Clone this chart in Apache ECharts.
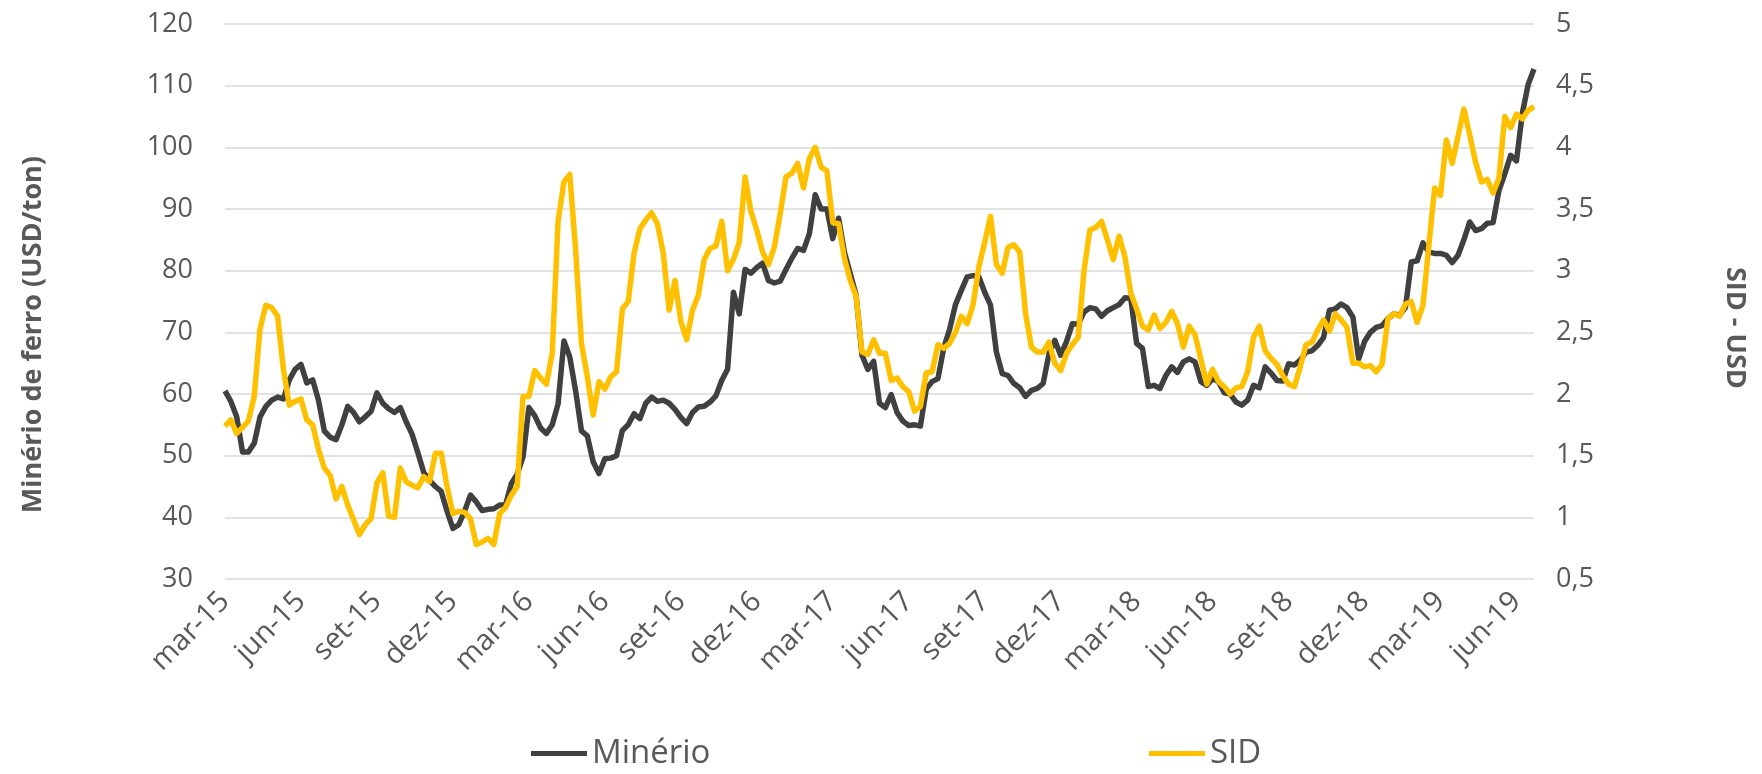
<!DOCTYPE html>
<html>
<head>
<meta charset="utf-8">
<script src="https://cdn.jsdelivr.net/npm/echarts@6/dist/echarts.min.js"></script>
<style>
  html, body { margin: 0; padding: 0; background: #fff; }
  #chart { width: 1762px; height: 774px; }
</style>
</head>
<body>
<div id="chart"></div>
<script>
// weekly series, mar-15 .. jun-19
var minerio = [
  60.5, 58.8, 56.3, 50.6, 50.6, 52, 56.3, 58, 59, 59.5,
  59.2, 62.3, 64, 64.8, 61.8, 62.3, 59, 54, 53, 52.6,
  55, 58, 57, 55.5, 56.3, 57.2, 60.2, 58.5, 57.6, 57,
  57.8, 55.5, 53.5, 50.5, 47.3, 46, 45, 44.2, 41, 38.2,
  38.8, 41, 43.6, 42.5, 41.1, 41.3, 41.4, 42, 42, 45.5,
  47, 49.8, 57.8, 56.5, 54.5, 53.6, 55, 58.4, 68.6, 66,
  60.5, 54, 53.2, 49, 47.1, 49.5, 49.6, 50, 54.1, 55,
  56.8, 56, 58.5, 59.5, 58.8, 59, 58.5, 57.5, 56.2, 55.2,
  57, 57.9, 58, 58.7, 59.7, 62.2, 64, 76.5, 73, 80.2,
  79.6, 80.5, 81.2, 78.4, 78, 78.3, 80.2, 82, 83.6, 83.3,
  86, 92.3, 90, 90, 85.2, 88.5, 83, 79.5, 76, 66.3,
  64, 65.3, 58.5, 57.8, 59.9, 57, 55.6, 54.9, 55, 54.8,
  60.8, 62, 62.5, 67.5, 70.5, 74.5, 76.8, 79, 79.2, 79,
  76.5, 74.4, 66.8, 63.3, 63, 61.7, 61, 59.6, 60.6, 60.9,
  61.7, 66.5, 68.7, 66.3, 68.5, 71.4, 71.3, 73.3, 74, 73.8,
  72.6, 73.5, 74, 74.5, 75.6, 75.5, 68.2, 67.4, 61.2, 61.4,
  60.9, 63, 64.4, 63.5, 65.2, 65.7, 65.2, 62, 61.4, 62.5,
  62, 60.2, 60, 58.7, 58.2, 59, 61.4, 61, 64.4, 63.4,
  62.2, 62.1, 64.9, 64.7, 65.5, 66.8, 67, 67.9, 69.2, 73.6,
  73.8, 74.6, 74, 72.5, 65.7, 68.5, 70, 70.8, 71.1, 72.2,
  73, 72.8, 74, 81.4, 81.6, 84.5, 83, 82.8, 82.8, 82.5,
  81.3, 82.5, 85, 87.9, 86.5, 86.8, 87.7, 87.8, 93, 95.7,
  98.7, 97.8, 105.5, 110.2, 112.7
];

var sid = [
  1.74, 1.79, 1.68, 1.73, 1.78, 1.98, 2.53, 2.72, 2.70, 2.63,
  2.20, 1.91, 1.94, 1.96, 1.79, 1.75, 1.55, 1.40, 1.34, 1.15,
  1.25, 1.10, 0.98, 0.86, 0.94, 0.99, 1.28, 1.36, 1.01, 1.00,
  1.40, 1.29, 1.26, 1.24, 1.33, 1.29, 1.52, 1.52, 1.25, 1.03,
  1.05, 1.04, 0.99, 0.78, 0.80, 0.83, 0.78, 1.03, 1.08, 1.18,
  1.25, 1.98, 1.98, 2.19, 2.13, 2.08, 2.33, 3.40, 3.72, 3.78,
  3.17, 2.41, 2.14, 1.83, 2.10, 2.04, 2.14, 2.18, 2.69, 2.75,
  3.14, 3.34, 3.41, 3.47, 3.38, 3.14, 2.68, 2.92, 2.59, 2.44,
  2.68, 2.80, 3.09, 3.18, 3.20, 3.40, 3.00, 3.09, 3.23, 3.76,
  3.48, 3.33, 3.15, 3.05, 3.19, 3.46, 3.76, 3.79, 3.87, 3.67,
  3.91, 4.00, 3.84, 3.81, 3.39, 3.38, 3.10, 2.92, 2.79, 2.34,
  2.32, 2.44, 2.33, 2.33, 2.11, 2.13, 2.06, 2.02, 1.86, 1.90,
  2.17, 2.18, 2.40, 2.37, 2.41, 2.50, 2.63, 2.57, 2.72, 3.03,
  3.23, 3.44, 3.05, 2.98, 3.19, 3.21, 3.15, 2.65, 2.38, 2.34,
  2.34, 2.42, 2.25, 2.19, 2.33, 2.40, 2.46, 3.00, 3.33, 3.35,
  3.40, 3.25, 3.09, 3.28, 3.11, 2.82, 2.69, 2.55, 2.52, 2.64,
  2.53, 2.58, 2.67, 2.57, 2.38, 2.55, 2.48, 2.28, 2.08, 2.20,
  2.10, 2.06, 2.00, 2.05, 2.06, 2.18, 2.46, 2.55, 2.35, 2.29,
  2.24, 2.15, 2.08, 2.06, 2.22, 2.40, 2.42, 2.52, 2.60, 2.51,
  2.65, 2.60, 2.54, 2.25, 2.25, 2.22, 2.23, 2.18, 2.24, 2.61,
  2.65, 2.63, 2.73, 2.75, 2.58, 2.72, 3.20, 3.67, 3.61, 4.06,
  3.87, 4.09, 4.31, 4.10, 3.88, 3.72, 3.74, 3.63, 3.75, 4.25,
  4.16, 4.27, 4.23, 4.30, 4.33
];

// one label every 13 weeks
var tickLabels = ['mar-15', 'jun-15', 'set-15', 'dez-15', 'mar-16', 'jun-16',
  'set-16', 'dez-16', 'mar-17', 'jun-17', 'set-17', 'dez-17', 'mar-18',
  'jun-18', 'set-18', 'dez-18', 'mar-19', 'jun-19'];
var labelStep = 13;

var weeks = minerio.map(function (v, i) { return 'w' + i; });

var gray = '#595959';
var font = '"Open Sans", sans-serif';

var chart = echarts.init(document.getElementById('chart'));
var option = {
  animation: false,
  backgroundColor: '#ffffff',
  textStyle: { fontFamily: font },
  grid: { left: 225, right: 228, top: 24, bottom: 195, containLabel: false },
  // axis titles sit a bit below the plot middle, as in the original
  graphic: [{
    type: 'text',
    left: 20, top: 156,
    rotation: Math.PI / 2,
    style: {
      text: 'Minério de ferro (USD/ton)',
      fill: gray, fontSize: 27, fontWeight: 'bold', fontFamily: font
    }
  }, {
    type: 'text',
    right: 14, top: 267,
    rotation: -Math.PI / 2,
    style: {
      text: 'SID - USD',
      fill: gray, fontSize: 27, fontWeight: 'bold', fontFamily: font
    }
  }],
  legend: [{
    data: ['Minério'],
    left: 526, top: 732,
    icon: 'rect', itemWidth: 56, itemHeight: 5, itemGap: 0,
    textStyle: { color: gray, fontSize: 33, fontFamily: font }
  }, {
    data: ['SID'],
    left: 1144, top: 732,
    icon: 'rect', itemWidth: 56, itemHeight: 5, itemGap: 0,
    textStyle: { color: gray, fontSize: 33, fontFamily: font }
  }],
  xAxis: {
    type: 'category',
    data: weeks,
    boundaryGap: false,
    axisLine: { show: false },
    axisTick: { show: false },
    axisLabel: {
      rotate: 45,
      margin: 18,
      color: gray,
      fontSize: 29,
      fontFamily: font,
      interval: function (i) { return i % labelStep === 0; },
      formatter: function (v, i) { return tickLabels[i / labelStep] || ''; }
    },
    splitLine: { show: false }
  },
  yAxis: [{
    type: 'value',
    min: 30, max: 120, interval: 10,
    axisLine: { show: false },
    axisTick: { show: false },
    axisLabel: { color: gray, fontSize: 27, margin: 32, fontFamily: font },
    splitLine: { lineStyle: { color: '#d9d9d9', width: 1.5 } }
  }, {
    type: 'value',
    min: 0.5, max: 5, interval: 0.5,
    axisLine: { show: false },
    axisTick: { show: false },
    axisLabel: {
      color: gray, fontSize: 27, margin: 22, fontFamily: font,
      formatter: function (v) { return String(v).replace('.', ','); }
    },
    splitLine: { show: false }
  }],
  series: [{
    name: 'Minério',
    type: 'line',
    yAxisIndex: 0,
    data: minerio,
    showSymbol: false,
    color: '#404040',
    lineStyle: { color: '#404040', width: 5.5, join: 'round' }
  }, {
    name: 'SID',
    type: 'line',
    yAxisIndex: 1,
    data: sid,
    showSymbol: false,
    color: '#FFC000',
    lineStyle: { color: '#FFC000', width: 5.5, join: 'round' }
  }]
};
chart.setOption(option);
</script>
</body>
</html>
